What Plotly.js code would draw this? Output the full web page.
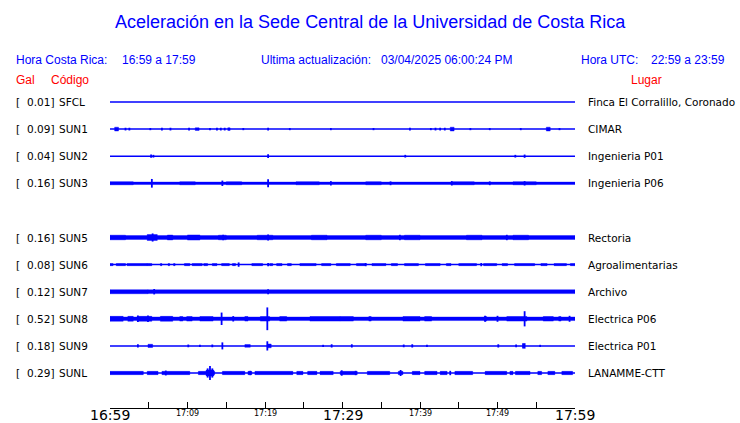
<!DOCTYPE html>
<html><head><meta charset="utf-8">
<script src="https://cdn.plot.ly/plotly-3.0.1.min.js"></script>
<style>html,body{margin:0;padding:0;background:#fff}#chart{width:740px;height:423px}</style>
</head><body><div id="chart"></div>
<script>
// ---------- data ----------
const titleText = 'Aceleración en la Sede Central de la Universidad de Costa Rica';
const localLabel = 'Hora Costa Rica:';
const localRange = '16:59 a 17:59';
const updateLabel = 'Ultima actualización:';
const updateValue = '03/04/2025 06:00:24 PM';
const utcLabel = 'Hora UTC:';
const utcRange = '22:59 a 23:59';

const codes   = ['SFCL','SUN1','SUN2','SUN3','SUN5','SUN6','SUN7','SUN8','SUN9','SUNL'];
const places  = ['Finca El Corralillo, Coronado','CIMAR','Ingenieria P01','Ingenieria P06','Rectoria',
                 'Agroalimentarias','Archivo','Electrica P06','Electrica P01','LANAMME-CTT'];
const peakGal = [0.01,0.09,0.04,0.16,0.16,0.08,0.12,0.52,0.18,0.29];

// minutes after 16:59
const tickMinutes = [0,5,10,15,20,25,30,35,40,45,50,55,60];
const majorLabelMin = [0,30,60];
const majorLabels = ['16:59','17:29','17:59'];
const minorLabelMin = [10,20,40,50];
const minorLabels = ['17:09','17:19','17:39','17:49'];

// noise bands: [startMin, endMin, halfAmplitude]; spikes: [min, halfAmplitude]
const bands_SFCL = [];
const spikes_SFCL = [];
const bands_SUN1 = [[0.6,1.1,0.07],[11.0,11.5,0.05],[43.9,44.4,0.07],[56.3,56.8,0.07],[15.2,15.5,0.05]];
const spikes_SUN1 = [[2.0,0.05],[2.5,0.05],[5.2,0.04],[6.7,0.05],[7.8,0.05],[10.2,0.05],[12.9,0.04],[13.8,0.05],[14.3,0.05],[14.8,0.05],[17.2,0.04],[20.4,0.05],[23.2,0.04],[28.5,0.04],[34.0,0.04],[38.7,0.05],[41.4,0.04],[42.0,0.05],[42.6,0.05],[43.2,0.05],[46.5,0.04],[49.0,0.04],[53.0,0.04],[58.0,0.04]];
const bands_SUN2 = [];
const spikes_SUN2 = [[5.3,0.06],[5.6,0.05],[20.4,0.07],[38.1,0.05],[52.3,0.05],[53.5,0.06]];
const bands_SUN3 = [[0,60,0.045],[0,3,0.055],[9,11,0.055],[15,17,0.055],[24,27,0.055],[33,35,0.055],[44,47,0.055],[52,55,0.055]];
const spikes_SUN3 = [[5.4,0.16],[14.5,0.1],[20.4,0.15],[28.5,0.08],[36.2,0.07],[44.1,0.08],[49.0,0.07],[53.5,0.08]];
const bands_SUN5 = [[0,60,0.07],[0,2,0.085],[4.8,6.1,0.11],[7.4,8.1,0.09],[10,11.6,0.095],[14,15,0.085],[19,21,0.085],[26,28,0.085],[33,35,0.085],[38,40,0.085],[46,48,0.085],[52,54,0.085]];
const spikes_SUN5 = [[5.5,0.15],[14.6,0.1],[20.4,0.11],[37.4,0.1],[51.2,0.1]];
const bands_SUN6 = [[0,0.4,0.04],[0.8,2,0.04],[2.2,4.8,0.04],[4.8,5.4,0.04],[6.5,6.7,0.04],[7.5,7.7,0.04],[8.2,8.4,0.04],[9.6,10.3,0.04],[10.6,11.9,0.04],[12.1,12.6,0.04],[13.2,13.8,0.04],[14.4,15.4,0.04],[15.8,16.2,0.04],[18.3,19.7,0.04],[20.6,21.0,0.04],[21.5,22.2,0.04],[22.9,23.4,0.04],[24.5,26.6,0.04],[27.3,28.5,0.04],[29.2,31.0,0.04],[31.8,32.9,0.04],[33.8,35.6,0.04],[36.3,37.1,0.04],[38.0,39.8,0.04],[40.7,42.6,0.04],[43.4,44.0,0.04],[45.0,47.3,0.04],[48.2,49.9,0.04],[50.6,51.3,0.04],[52.2,54.8,0.04],[55.6,56.4,0.04],[57.3,58.9,0.04],[59.4,60,0.04]];
const spikes_SUN6 = [[16.6,0.08],[20.4,0.06],[33.0,0.06],[47.9,0.06]];
const bands_SUN7 = [[0,4.9,0.075],[4.9,60,0.07]];
const spikes_SUN7 = [[5.7,0.1],[20.4,0.09]];
const bands_SUN8 = [[0,60,0.065],[0,1.7,0.09],[2.3,3,0.09],[3.5,5.4,0.09],[6.5,8.1,0.09],[9,9.4,0.085],[9.9,10.6,0.085],[11.6,13.3,0.085],[17.4,17.8,0.085],[19.4,20.6,0.085],[21.9,22.8,0.085],[25.8,29.7,0.085],[29.7,31.4,0.085],[33.4,33.7,0.085],[37.8,40,0.085],[40.6,41.5,0.085],[48.3,48.6,0.085],[51.2,53.8,0.085],[55.9,57.2,0.085],[57.9,58.2,0.085]];
const spikes_SUN8 = [[14.4,0.23],[20.3,0.42],[53.5,0.28],[3.6,0.12],[4.9,0.12],[15.9,0.1],[48.4,0.11],[50.0,0.11],[59.3,0.11]];
const bands_SUN9 = [[4.9,5.5,0.06],[17.4,18.1,0.05],[20.3,20.8,0.07]];
const spikes_SUN9 = [[3.6,0.06],[10.1,0.05],[11.6,0.04],[13.2,0.05],[14.5,0.13],[20.3,0.17],[27.5,0.04],[28.6,0.06],[31.2,0.06],[37.9,0.05],[39.0,0.06],[40.9,0.04],[50.1,0.06],[52.4,0.05],[53.3,0.1],[53.5,0.1],[55.5,0.04]];
const bands_SUNL = [[0,4.3,0.06],[4.8,6.2,0.06],[6.7,10.3,0.06],[11.4,13.5,0.06],[12.4,13.4,0.11],[14.5,17.4,0.06],[17.8,18.3,0.06],[18.7,23.6,0.06],[24.1,24.9,0.06],[25.5,26.7,0.06],[27.1,28.8,0.06],[29.7,31.9,0.06],[33.2,36.1,0.06],[37.2,37.8,0.06],[39,40,0.06],[40.6,42.2,0.06],[42.6,43.5,0.06],[44.5,46.8,0.06],[48.4,51.2,0.06],[51.6,52,0.06],[52.3,54.2,0.06],[55.2,55.7,0.06],[56.5,57.4,0.06],[58.3,59.7,0.06]];
const spikes_SUNL = [[12.9,0.26],[12.6,0.17],[13.2,0.17],[7.2,0.09],[29.9,0.1],[37.5,0.11],[43.9,0.08],[31.7,0.08],[18.1,0.08]];

// ---------- drawing ----------
const bandsByCode = {SFCL:bands_SFCL,SUN1:bands_SUN1,SUN2:bands_SUN2,SUN3:bands_SUN3,SUN5:bands_SUN5,SUN6:bands_SUN6,SUN7:bands_SUN7,SUN8:bands_SUN8,SUN9:bands_SUN9,SUNL:bands_SUNL};
const spikesByCode = {SFCL:spikes_SFCL,SUN1:spikes_SUN1,SUN2:spikes_SUN2,SUN3:spikes_SUN3,SUN5:spikes_SUN5,SUN6:spikes_SUN6,SUN7:spikes_SUN7,SUN8:spikes_SUN8,SUN9:spikes_SUN9,SUNL:spikes_SUNL};

const BLUE = '#0000ff';
const W = 740, H = 423;
const rowTopPx = 102, rowStepPx = 27.1;
const slotOf = i => i + (i >= 4 ? 1 : 0);   // empty row where SUN4 would be

const traces = [];
const annotations = [];
const labelFont = {family:'DejaVu Sans', size:10.5, color:'#000'};

codes.forEach((code, i) => {
  const y0 = slotOf(i);
  traces.push({x:[0,60], y:[y0,y0], mode:'lines', line:{color:BLUE, width:1.5}, hoverinfo:'skip'});
  const bx = [], by = [];
  bandsByCode[code].forEach(([a,b,h]) => {
    bx.push(a,b,b,a,a,null); by.push(y0-h,y0-h,y0+h,y0+h,y0-h,null);
  });
  if (bx.length) traces.push({x:bx, y:by, mode:'lines', fill:'toself', fillcolor:BLUE, line:{color:BLUE, width:0.4}, hoverinfo:'skip'});
  const sx = [], sy = [];
  spikesByCode[code].forEach(([t,h]) => { sx.push(t,t,null); sy.push(y0-h,y0+h,null); });
  if (sx.length) traces.push({x:sx, y:sy, mode:'lines', line:{color:BLUE, width:1.8}, hoverinfo:'skip'});

  annotations.push({xref:'paper', yref:'y', x:15/W, y:y0, xanchor:'left', yanchor:'middle', text:'[', showarrow:false, font:labelFont, borderpad:0});
  annotations.push({xref:'paper', yref:'y', x:55/W, y:y0, xanchor:'right', yanchor:'middle', text:peakGal[i].toFixed(2)+']', showarrow:false, font:labelFont, borderpad:0});
  annotations.push({xref:'paper', yref:'y', x:58/W, y:y0, xanchor:'left', yanchor:'middle', text:code, showarrow:false, font:labelFont, borderpad:0});
  annotations.push({xref:'paper', yref:'y', x:587/W, y:y0, xanchor:'left', yanchor:'middle', text:places[i], showarrow:false, font:labelFont, borderpad:0});
});

const py = px => 1 - px / H;
const hdr = (x, y, text, color, size, family, anchor) => annotations.push({
  xref:'paper', yref:'paper', x:x/W, y:py(y), xanchor:anchor||'left', yanchor:'middle',
  text, showarrow:false, borderpad:0, font:{family:family||'Liberation Sans', size:size||12, color}});

hdr(370, 22, titleText, BLUE, 18, 'Liberation Sans', 'center');
hdr(15, 60, localLabel, BLUE);
hdr(121, 60, localRange, BLUE);
hdr(260, 60, updateLabel, BLUE);
hdr(380, 60, updateValue, BLUE);
hdr(580, 60, utcLabel, BLUE);
hdr(650, 60, utcRange, BLUE);
hdr(15, 80, 'Gal', '#ff0000');
hdr(50, 80, 'Código', '#ff0000');
hdr(630, 80, 'Lugar', '#ff0000');

majorLabelMin.forEach((m, k) => annotations.push({xref:'x', yref:'paper', x:m, y:py(415), xanchor:'center', yanchor:'middle',
  text:majorLabels[k], showarrow:false, borderpad:0, font:{family:'DejaVu Sans', size:14, color:'#000'}}));
minorLabelMin.forEach((m, k) => annotations.push({xref:'x', yref:'paper', x:m, y:py(413), xanchor:'center', yanchor:'middle',
  text:minorLabels[k], showarrow:false, borderpad:0, font:{family:'DejaVu Sans', size:8, color:'#000'}}));

const layout = {
  width:W, height:H, margin:{l:0,r:0,t:0,b:0},
  paper_bgcolor:'#fff', plot_bgcolor:'#fff', showlegend:false,
  xaxis:{domain:[110/W, 575/W], range:[0,60], anchor:'free', position:(H-408)/H,
    showline:true, linecolor:'#000', linewidth:1, ticks:'inside', ticklen:6, tickwidth:1, tickcolor:'#000',
    tickmode:'array', tickvals:tickMinutes, showticklabels:false, showgrid:false, zeroline:false, fixedrange:true},
  yaxis:{domain:[0,1], range:[(H-rowTopPx)/rowStepPx, -rowTopPx/rowStepPx], visible:false, fixedrange:true},
  annotations
};
Plotly.newPlot('chart', traces, layout, {staticPlot:true, displayModeBar:false});
</script></body></html>
